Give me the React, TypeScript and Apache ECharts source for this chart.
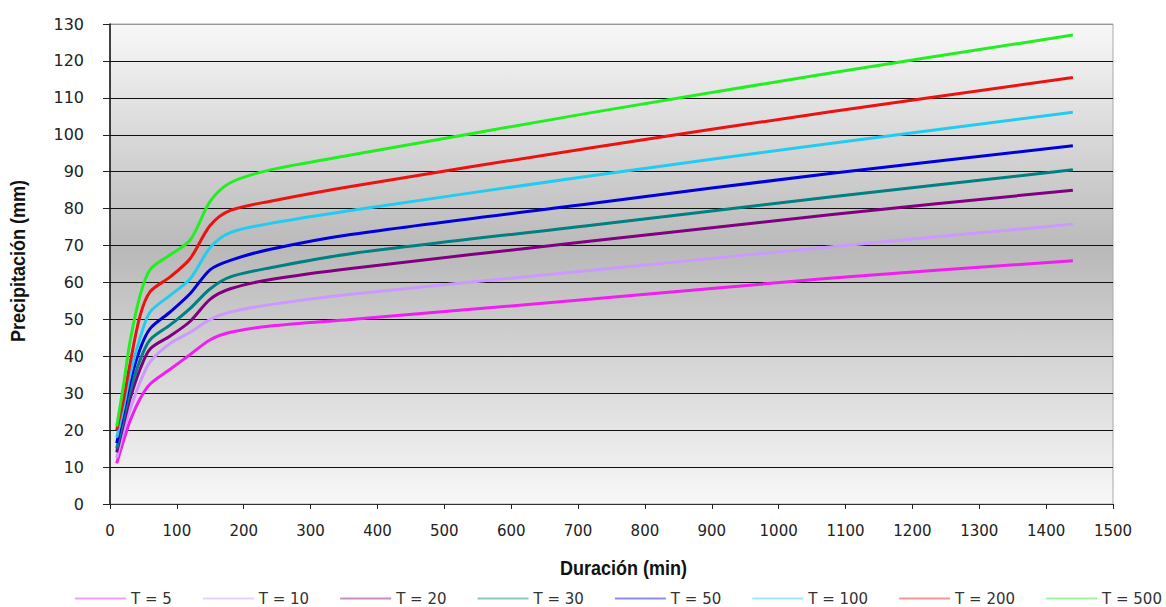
import React, { useEffect, useRef } from "react";
import * as echarts from "echarts";

const durations = [10, 20, 30, 45, 60, 90, 120, 150, 180, 240, 360, 720, 1080, 1440];

const seriesNames = ["T = 5", "T = 10", "T = 20", "T = 30", "T = 50", "T = 100", "T = 200", "T = 500"];
const seriesColors = ["#f01ef0", "#cc99ff", "#800080", "#008080", "#0000dd", "#22ccf0", "#ee1111", "#22ee22"];

const t5 = [11, 17, 22.5, 28.5, 32.5, 36.5, 40.5, 44.5, 46.5, 48.2, 50, 55.5, 61.2, 65.9];
const t10 = [12.5, 19.5, 25.5, 33, 38.5, 43.5, 46.5, 50, 52, 54, 56.8, 63.3, 69.7, 75.8];
const t20 = [14, 21.5, 28.5, 36.5, 42, 45.5, 49.5, 55.5, 58.3, 60.8, 63.8, 71.2, 78.4, 85];
const t30 = [15, 23, 30.5, 39, 44.5, 48.5, 53, 58.3, 61.5, 64, 67.8, 75.5, 83.2, 90.5];
const t50 = [16.5, 24.5, 33, 42, 47.5, 52, 57, 63.5, 66, 69, 73, 81.4, 89.6, 97];
const t100 = [18, 26, 35, 45, 52, 56.5, 61, 69.5, 73.5, 76, 79.5, 88.9, 97.7, 106.1];
const t200 = [20, 28, 38, 51, 57.5, 61.5, 66.5, 75.5, 79.5, 82, 86, 96.5, 106.3, 115.5];
const t500 = [21, 32, 44, 56.5, 63.5, 67.5, 71.5, 82, 87, 90.5, 94.5, 106, 116.8, 127];

const allValues = [t5, t10, t20, t30, t50, t100, t200, t500];

const yTicks = [0, 10, 20, 30, 40, 50, 60, 70, 80, 90, 100, 110, 120, 130];

export default function App() {
  const ref = useRef<HTMLDivElement>(null);
  useEffect(() => {
    if (!ref.current) return;
    const chart = echarts.init(ref.current, undefined, { renderer: "svg" });
    const splitColors = yTicks.map((v, i) => (i === yTicks.length - 1 ? "#999999" : "#111111"));
    chart.setOption({
      animation: false,
      backgroundColor: "#ffffff",
      grid: {
        left: 110,
        top: 24,
        right: 53,
        bottom: 103,
        show: true,
        borderColor: "#aaaaaa",
        borderWidth: 1,
        backgroundColor: {
          type: "linear",
          x: 0,
          y: 0,
          x2: 0,
          y2: 1,
          colorStops: [
            { offset: 0, color: "#f8f8f8" },
            { offset: 0.47, color: "#b9b9b9" },
            { offset: 1, color: "#f8f8f8" },
          ],
        },
      },
      xAxis: {
        type: "value",
        min: 0,
        max: 1500,
        interval: 100,
        axisLine: { show: true, lineStyle: { color: "#333", width: 1 } },
        axisTick: { show: true, length: 5, lineStyle: { color: "#222" } },
        splitLine: { show: false },
        axisLabel: {
          color: "#222",
          fontSize: 15,
          fontFamily: "'DejaVu Sans', sans-serif",
          margin: 19,
          formatter: (v: number) => String(v),
        },
      },
      yAxis: {
        type: "value",
        min: 0,
        max: 130,
        interval: 10,
        axisLine: { show: true, lineStyle: { color: "#111", width: 1.5 } },
        axisTick: { show: true, length: 7, lineStyle: { color: "#222" } },
        splitLine: { show: true, lineStyle: { color: splitColors, width: 1.2 } },
        axisLabel: {
          color: "#222",
          fontSize: 16,
          fontFamily: "'DejaVu Sans', sans-serif",
          margin: 26,
          formatter: (v: number) => String(v),
        },
      },
      legend: {
        top: 586,
        left: 70,
        width: 1096,
        itemWidth: 51,
        itemHeight: 2,
        itemGap: 31,
        icon: "rect",
        textStyle: { color: "#333", fontSize: 15, fontFamily: "'DejaVu Sans', sans-serif" },
        data: seriesNames.map((n, i) => ({ name: n, itemStyle: { color: seriesColors[i], opacity: 0.45 } })),
      },
      graphic: [
        {
          type: "text",
          x: 560,
          y: 558,
          scaleX: 0.9,
          style: {
            text: "Duración (min)",
            fill: "#111",
            font: "bold 20px 'Liberation Sans', Arial, sans-serif",
          },
        },
        {
          type: "text",
          x: 8,
          y: 342,
          rotation: Math.PI / 2,
          scaleX: 0.9,
          style: {
            text: "Precipitación (mm)",
            fill: "#111",
            font: "bold 20px 'Liberation Sans', Arial, sans-serif",
          },
        },
      ],
      series: seriesNames.map((name, i) => ({
        name,
        type: "line",
        smooth: 0.3,
        symbol: "none",
        lineStyle: { color: seriesColors[i], width: 3 },
        itemStyle: { color: seriesColors[i] },
        data: durations.map((d, j) => [d, allValues[i][j]]),
      })),
    });
    return () => chart.dispose();
  }, []);
  return <div ref={ref} style={{ position: "fixed", left: 0, top: 0, width: 1166, height: 607 }} />;
}
